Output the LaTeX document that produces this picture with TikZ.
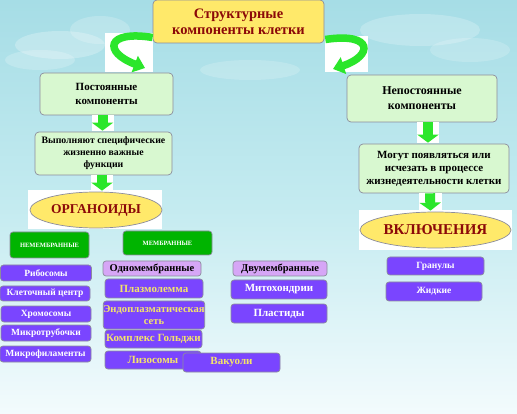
\documentclass[tikz,border=0pt]{standalone}
\usepackage{fontspec}
\setmainfont{Liberation Serif}
\usetikzlibrary{shapes.geometric,arrows.meta,calc}
\definecolor{skytop}{HTML}{A6DDE6}
\definecolor{skymid}{HTML}{C4EBF0}
\definecolor{skybot}{HTML}{F3FBFD}
\definecolor{ttl}{HTML}{FFE96A}
\definecolor{dred}{HTML}{8B0808}
\definecolor{lgreen}{HTML}{D8F8D0}
\definecolor{gbtn}{HTML}{00B400}
\definecolor{purp}{HTML}{7A45FF}
\definecolor{lpurp}{HTML}{D6A6F6}
\definecolor{ytxt}{HTML}{F4E46A}
\definecolor{arrg}{HTML}{2BE62B}
\definecolor{bord}{HTML}{8C8C9C}
\tikzset{
  x=1pt,y=-1pt,
  box/.style={rectangle, rounded corners=4pt, draw=bord, line width=0.7pt, align=center, inner sep=0pt, font=\bfseries},
  greenbox/.style={box, fill=lgreen, text=black},
  ttlbox/.style={box, fill=ttl, text=dred},
  oval/.style={ellipse, draw=bord, line width=0.7pt, fill=ttl, text=dred, inner sep=0pt, font=\bfseries\fontsize{15}{17}\selectfont},
  gbtnbox/.style={box, rounded corners=3pt, fill=gbtn, text=white, font=\bfseries\fontsize{6.5}{8}\selectfont},
  pbox/.style={box, rounded corners=3pt, fill=purp, text=white, font=\bfseries\fontsize{9.5}{11}\selectfont},
  ybox/.style={pbox, text=ytxt, font=\bfseries\fontsize{11}{12}\selectfont},
  wbox/.style={pbox, font=\bfseries\fontsize{11}{12}\selectfont},
  hbox/.style={box, rounded corners=3pt, fill=lpurp, text=black, font=\bfseries\fontsize{10.5}{12}\selectfont},
  downarr/.style={line width=10pt, draw=arrg, -{Triangle[width=21pt,length=8pt]}},
  curvarr/.style={line width=7.5pt, draw=arrg, -{Triangle[width=17pt,length=11pt]}},
}
\newcommand\whitebg[2]{\fill[white] ($(#1)+(-11,0)$) rectangle ($(#2)+(11,0)$);}
\begin{document}
\begin{tikzpicture}
% background
\useasboundingbox (0,0) rectangle (517,414);
\shade[top color=skytop, bottom color=skybot, middle color=skymid] (0,0) rectangle (517,414);
\fill[white, opacity=0.25] (60,45) ellipse (45 and 14);
\fill[white, opacity=0.2] (100,30) ellipse (30 and 14);
\fill[white, opacity=0.2] (40,60) ellipse (35 and 10);
\fill[white, opacity=0.22] (420,30) ellipse (60 and 16);
\fill[white, opacity=0.18] (470,50) ellipse (40 and 12);
\fill[white, opacity=0.18] (250,70) ellipse (50 and 10);

% nodes
\node[ttlbox, minimum width=171, minimum height=43, font=\bfseries\fontsize{14.5}{16}\selectfont] (title) at (238.5,21.5) {Структурные\\компоненты клетки};
\node[greenbox, minimum width=133, minimum height=42, font=\bfseries\fontsize{11}{14}\selectfont] (post) at (106.5,94) {Постоянные\\компоненты};
\node[greenbox, minimum width=150, minimum height=47, font=\bfseries\fontsize{12}{15}\selectfont] (nepost) at (422,98.5) {Непостоянные\\компоненты};
\node[greenbox, minimum width=137, minimum height=43, font=\bfseries\fontsize{9.8}{12}\selectfont] (vyp) at (103.5,153.5) {Выполняют специфические\\жизненно важные\\функции};
\node[greenbox, minimum width=150, minimum height=49, font=\bfseries\fontsize{11}{13}\selectfont] (mogut) at (434,168.5) {Могут появляться или\\исчезать в процессе\\жизнедеятельности клетки};

\fill[white] (28,190) rectangle (162,229);
\node[oval, minimum width=132, minimum height=36, font=\bfseries\fontsize{13.5}{16}\selectfont] (org) at (96,210) {ОРГАНОИДЫ};
\fill[white] (359,210) rectangle (512,250);
\node[oval, minimum width=151, minimum height=36] (vkl) at (435.5,230) {ВКЛЮЧЕНИЯ};

\node[gbtnbox, minimum width=79, minimum height=26] (nemem) at (49.5,245) {НЕМЕМБРАННЫЕ};
\node[gbtnbox, minimum width=89, minimum height=24] (mem) at (167.5,243) {МЕМБРАННЫЕ};

\node[pbox, minimum width=91, minimum height=16] (ribo) at (46,273) {Рибосомы};
\node[pbox, minimum width=90, minimum height=15] (kc) at (45,293.5) {Клеточный центр};
\node[pbox, minimum width=90, minimum height=16] (hrom) at (46,314) {Хромосомы};
\node[pbox, minimum width=90, minimum height=16] (mtr) at (46,333) {Микротрубочки};
\node[pbox, minimum width=91, minimum height=16] (mfil) at (45.5,354) {Микрофиламенты};

\node[hbox, minimum width=98, minimum height=15] (odno) at (152,268.5) {Одномембранные};
\node[ybox, minimum width=98, minimum height=19] (plaz) at (154,288.5) {Плазмолемма};
\node[ybox, minimum width=100, minimum height=28, font=\bfseries\fontsize{10.6}{12}\selectfont] (eps) at (154,315) {Эндоплазматическая\\сеть};
\node[ybox, minimum width=97, minimum height=18] (golgi) at (153.5,339) {Комплекс Гольджи};
\node[ybox, minimum width=96, minimum height=18] (lizo) at (153,360) {Лизосомы};
\node[ybox, minimum width=97, minimum height=19] (vak) at (231.5,362.5) {Вакуоли};

\node[hbox, minimum width=94, minimum height=15] (dvu) at (280,268.5) {Двумембранные};
\node[wbox, minimum width=96, minimum height=19] (mito) at (279,289.5) {Митохондрии};
\node[wbox, minimum width=96, minimum height=19] (plast) at (279,313.5) {Пластиды};

\node[pbox, minimum width=97, minimum height=18] (gran) at (435.5,266) {Гранулы};
\node[pbox, minimum width=96, minimum height=19] (zhid) at (434,291.5) {Жидкие};

% straight block arrows
\coordinate (a1t) at ($(post.south)+(-4,0)$);
\coordinate (a1b) at ($(vyp.north)+(-1,-1)$);
\whitebg{a1t}{a1b}
\draw[downarr] (a1t) -- (a1b);
\coordinate (a2t) at ($(vyp.south)+(-1.5,0)$);
\coordinate (a2b) at ($(org.north)+(6,-1)$);
\whitebg{a2t}{a2b}
\draw[downarr] (a2t) -- (a2b);
\coordinate (a3t) at ($(nepost.south)+(6,0)$);
\coordinate (a3b) at ($(mogut.north)+(-6,-1)$);
\whitebg{a3t}{a3b}
\draw[downarr] (a3t) -- (a3b);
\coordinate (a4t) at ($(mogut.south)+(-4,0)$);
\coordinate (a4b) at ($(vkl.north)+(-5,-1)$);
\whitebg{a4t}{a4b}
\draw[downarr] (a4t) -- (a4b);

% curved arrows
\fill[white] (105,33) rectangle (152.6,72);
\fill[white] (325.4,36) rectangle (368,72);
\coordinate (c1s) at ($(title.west)+(0,16)$);
\coordinate (c1e) at (145,68);
\draw[curvarr] (c1s) .. controls (106,30) and (103,52) .. (c1e);
\coordinate (c2s) at ($(title.east)+(1,18)$);
\coordinate (c2e) at (333,69);
\draw[curvarr] (c2s) .. controls (374,32) and (373,56) .. (c2e);
\end{tikzpicture}
\end{document}
